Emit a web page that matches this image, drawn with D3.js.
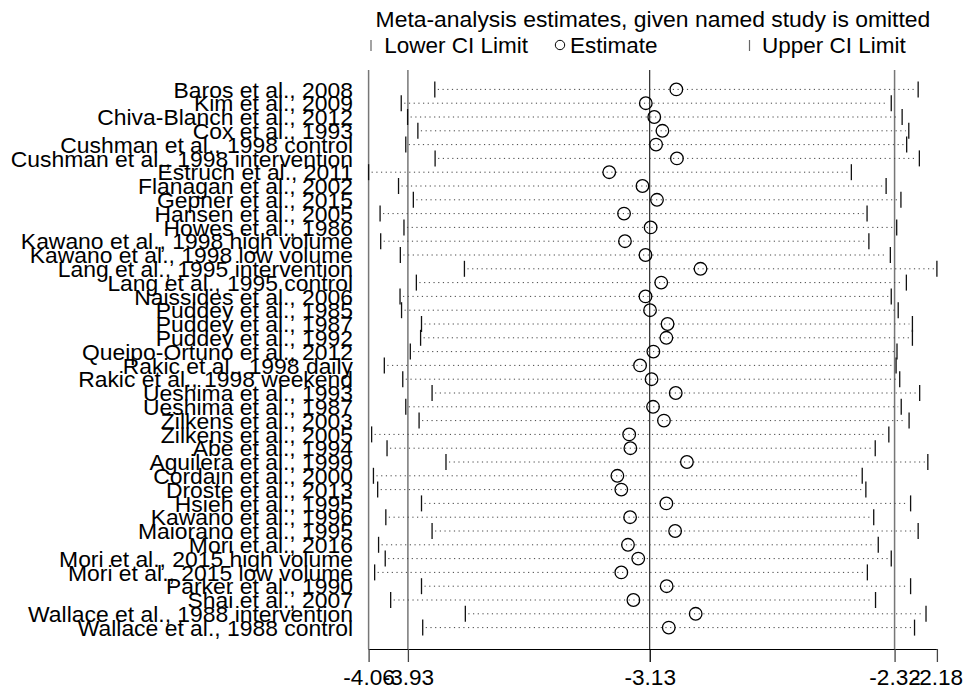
<!DOCTYPE html>
<html>
<head>
<meta charset="utf-8">
<script src="https://cdn.jsdelivr.net/npm/d3@7"></script>
<style>
body{margin:0;background:#fff;}
text{font-family:"Liberation Sans",Arial,sans-serif;}
</style>
</head>
<body>
<svg id="graph"></svg>
<script>
var studies=["Baros et al., 2008","Kim et al., 2009","Chiva-Blanch et al., 2012","Cox et al., 1993",
"Cushman et al., 1998 control","Cushman et al., 1998 intervention","Estruch et al., 2011","Flanagan et al., 2002",
"Gepner et al., 2015","Hansen et al., 2005","Howes et al., 1986","Kawano et al., 1998 high volume",
"Kawano et al., 1998 low volume","Lang et al., 1995 intervention","Lang et al., 1995 control","Naissides et al., 2006",
"Puddey et al., 1985","Puddey et al., 1987","Puddey et al., 1992","Queipo-Ortuno et al., 2012",
"Rakic et al., 1998 daily","Rakic et al., 1998 weekend","Ueshima et al., 1993","Ueshima et al., 1987",
"Zilkens et al., 2003","Zilkens et al., 2005","Abe et al., 1994","Aguilera et al., 1999",
"Cordain et al., 2000","Droste et al., 2013","Hsieh et al., 1995","Kawano et al., 1996",
"Maiorano et al., 1995","Mori et al., 2016","Mori et al., 2015 high volume","Mori et al., 2015 low volume",
"Parker et al., 1990","Shai et al., 2007","Wallace et al., 1988 intervention","Wallace et al., 1988 control"]

var lower=[-3.841,-3.952,-3.931,-3.897,-3.937,-3.840,-4.060,-3.961,-3.912,-4.022,-3.943,-4.020,-3.955,-3.743,
-3.902,-3.956,-3.951,-3.885,-3.888,-3.922,-4.008,-3.947,-3.850,-3.937,-3.893,-4.050,-3.999,-3.804,-4.044,-4.030,
-3.885,-4.003,-3.850,-4.027,-4.005,-4.040,-3.885,-3.987,-3.740,-3.881]

var estimate=[-3.042,-3.143,-3.115,-3.088,-3.109,-3.040,-3.264,-3.154,-3.106,-3.215,-3.127,-3.212,-3.144,-2.962,
-3.092,-3.144,-3.129,-3.071,-3.075,-3.118,-3.162,-3.124,-3.044,-3.119,-3.083,-3.198,-3.194,-3.007,-3.237,-3.224,
-3.075,-3.195,-3.046,-3.202,-3.168,-3.224,-3.074,-3.184,-2.978,-3.067]

var upper=[-2.242,-2.331,-2.295,-2.273,-2.280,-2.238,-2.463,-2.348,-2.299,-2.411,-2.313,-2.405,-2.334,-2.180,
-2.281,-2.331,-2.308,-2.261,-2.261,-2.312,-2.315,-2.303,-2.237,-2.298,-2.272,-2.339,-2.384,-2.210,-2.427,-2.415,
-2.267,-2.389,-2.242,-2.374,-2.331,-2.410,-2.267,-2.383,-2.216,-2.254]

// axis ticks = min lower, overall CI + estimate, max upper
var tickValues=[-4.06,-3.93,-3.13,-2.32,-2.18]
var refLines=[-3.93,-3.13,-2.32]

var screen={width:972,height:691}
var fs=22.9

var rows=studies.map(function(s,i){
  return {name:s,lo:lower[i],est:estimate[i],hi:upper[i]}
})

var svg=d3.select("#graph")
.attr("width",screen.width)
.attr("height",screen.height)

var xScale=d3.scaleLinear()
.domain([-4.06,-2.18])
.range([368.6,936.9])

var yScale=d3.scalePoint()
.domain(studies)
.range([89.4,627.6])

var plotTop=70, plotBottom=649

// title + legend
svg.append("text")
.attr("x",375.6).attr("y",26.5)
.attr("font-size",fs)
.text("Meta-analysis estimates, given named study is omitted")

var leg=svg.append("g")
leg.append("line").attr("x1",371).attr("x2",371).attr("y1",40).attr("y2",51)
.attr("stroke","#666").attr("stroke-width",1.2)
leg.append("text").attr("x",384.2).attr("y",52.7).attr("font-size",22.5).text("Lower CI Limit")
leg.append("circle").attr("cx",560).attr("cy",45).attr("r",4.7)
.attr("fill","none").attr("stroke","#000").attr("stroke-width",1)
leg.append("text").attr("x",570).attr("y",52.7).attr("font-size",22.5).text("Estimate")
leg.append("line").attr("x1",749.5).attr("x2",749.5).attr("y1",40).attr("y2",51)
.attr("stroke","#666").attr("stroke-width",1.2)
leg.append("text").attr("x",762).attr("y",52.7).attr("font-size",22.5).text("Upper CI Limit")

// left axis line
svg.append("line")
.attr("x1",xScale(-4.06)).attr("x2",xScale(-4.06))
.attr("y1",plotTop).attr("y2",plotBottom)
.attr("stroke","#777").attr("stroke-width",1.5)

// reference lines
svg.selectAll(".ref")
.data(refLines)
.enter()
.append("line")
.attr("class","ref")
.attr("x1",function(d){return xScale(d)})
.attr("x2",function(d){return xScale(d)})
.attr("y1",plotTop).attr("y2",plotBottom)
.attr("stroke",function(d){return d==-3.13?"#000":"#777"})
.attr("stroke-width",function(d){return d==-3.13?1:1.5})

// dotted CI lines
svg.selectAll(".ci")
.data(rows)
.enter()
.append("line")
.attr("class","ci")
.attr("x1",function(d){return xScale(d.lo)+3})
.attr("x2",function(d){return xScale(d.hi)-3})
.attr("y1",function(d){return yScale(d.name)})
.attr("y2",function(d){return yScale(d.name)})
.attr("stroke","#444")
.attr("stroke-width",1)
.attr("stroke-dasharray","1.2,3.5")

// lower / upper ticks
function drawTicks(cls,key)
{
  svg.selectAll("."+cls)
  .data(rows)
  .enter()
  .append("line")
  .attr("class",cls)
  .attr("x1",function(d){return xScale(d[key])})
  .attr("x2",function(d){return xScale(d[key])})
  .attr("y1",function(d){return yScale(d.name)-8})
  .attr("y2",function(d){return yScale(d.name)+8})
  .attr("stroke","#111")
  .attr("stroke-width",1.3)
}
drawTicks("lo","lo")
drawTicks("hi","hi")

// estimates
svg.selectAll(".est")
.data(rows)
.enter()
.append("circle")
.attr("class","est")
.attr("cx",function(d){return xScale(d.est)})
.attr("cy",function(d){return yScale(d.name)})
.attr("r",6.3)
.attr("fill","none")
.attr("stroke","#000")
.attr("stroke-width",1.3)

// study labels
svg.selectAll(".lab")
.data(rows)
.enter()
.append("text")
.attr("class","lab")
.attr("x",353)
.attr("y",function(d){return yScale(d.name)})
.attr("dy","0.36em")
.attr("text-anchor","end")
.attr("font-size",fs)
.text(function(d){return d.name})

// x axis
var xAxis=d3.axisBottom(xScale)
.tickValues(tickValues)
.tickSize(13)
.tickPadding(7)
.tickFormat(d3.format(".2f"))

var ax=svg.append("g")
.attr("transform","translate(0,"+plotBottom+")")
.call(xAxis)
ax.select(".domain").attr("d","M"+xScale(-4.06)+",0.5H"+xScale(-2.18)).attr("stroke","#000")
ax.selectAll(".tick line").attr("stroke",function(d){return (d==-3.13)?"#000":"#444"}).attr("stroke-width",1.3)
ax.selectAll(".tick text")
.attr("font-size",22.6)
.attr("font-family","Liberation Sans, Arial, sans-serif")
.attr("fill","#000")
.text(function(d){return d3.format(".2f")(d).replace("−","-")})
</script>
</body>
</html>
